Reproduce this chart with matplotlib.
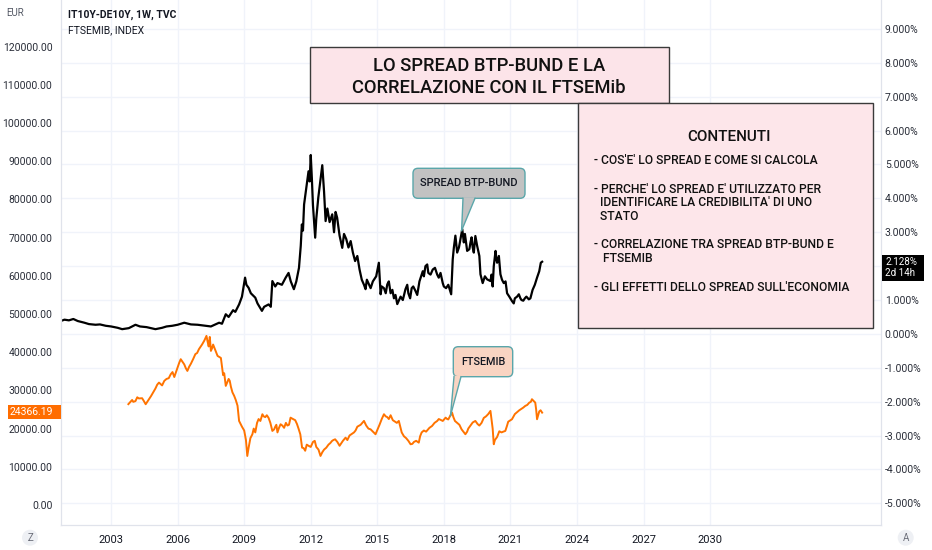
import matplotlib.pyplot as plt
from matplotlib.patches import FancyBboxPatch, Polygon, Rectangle, Circle
from matplotlib.lines import Line2D
from matplotlib.transforms import IdentityTransform

W, H = 932, 550

# IT10Y-DE10Y spread, weekly, %
spread_years = [2000.73, 2000.9, 2001.1, 2001.3, 2001.5, 2001.8, 2002.0, 2002.3, 2002.5, 2002.76,
                2003.0, 2003.3, 2003.5, 2003.8, 2004.1, 2004.3, 2004.6, 2005.0, 2005.3, 2005.5,
                2005.76, 2006.0, 2006.3, 2006.6, 2006.9, 2007.27, 2007.5, 2007.7, 2007.87, 2008.0,
                2008.17, 2008.3, 2008.5, 2008.6, 2008.77, 2008.9, 2009.04, 2009.1, 2009.2, 2009.3,
                2009.5, 2009.6, 2009.8, 2009.9, 2010.1, 2010.2, 2010.27, 2010.4, 2010.5, 2010.7,
                2010.87, 2011.0, 2011.1, 2011.24, 2011.35, 2011.47, 2011.55, 2011.6, 2011.65, 2011.7,
                2011.8, 2011.9, 2011.95, 2012.0, 2012.05, 2012.1, 2012.2, 2012.25, 2012.34, 2012.45,
                2012.52, 2012.6, 2012.67, 2012.75, 2012.85, 2012.97, 2013.05, 2013.12, 2013.19, 2013.3,
                2013.42, 2013.5, 2013.6, 2013.7, 2013.8, 2013.9, 2014.0, 2014.1, 2014.2, 2014.3,
                2014.4, 2014.47, 2014.53, 2014.6, 2014.7, 2014.8, 2014.95, 2015.07, 2015.15, 2015.2,
                2015.3, 2015.38, 2015.45, 2015.52, 2015.6, 2015.68, 2015.75, 2015.82, 2015.9, 2016.05,
                2016.15, 2016.27, 2016.35, 2016.4, 2016.48, 2016.55, 2016.62, 2016.72, 2016.8, 2016.9,
                2017.05, 2017.1, 2017.17, 2017.25, 2017.3, 2017.4, 2017.5, 2017.6, 2017.7, 2017.77,
                2017.85, 2017.95, 2018.0, 2018.1, 2018.2, 2018.33, 2018.4, 2018.45, 2018.52, 2018.6,
                2018.68, 2018.75, 2018.83, 2018.9, 2018.95, 2019.05, 2019.15, 2019.2, 2019.25, 2019.3,
                2019.35, 2019.42, 2019.5, 2019.6, 2019.65, 2019.75, 2019.85, 2019.95, 2020.1, 2020.15,
                2020.2, 2020.25, 2020.33, 2020.37, 2020.4, 2020.48, 2020.55, 2020.62, 2020.7, 2020.78,
                2020.85, 2020.95, 2021.07, 2021.15, 2021.2, 2021.3, 2021.38, 2021.45, 2021.5, 2021.58,
                2021.65, 2021.72, 2021.83, 2021.9, 2022.0, 2022.1, 2022.2, 2022.3, 2022.37, 2022.43]
spread_pct = [0.38, 0.42, 0.40, 0.44, 0.38, 0.33, 0.29, 0.27, 0.28, 0.24,
              0.22, 0.18, 0.14, 0.17, 0.27, 0.22, 0.20, 0.14, 0.18, 0.22,
              0.24, 0.27, 0.33, 0.28, 0.27, 0.24, 0.22, 0.28, 0.33, 0.30,
              0.58, 0.50, 0.70, 0.65, 0.87, 1.10, 1.66, 1.45, 1.36, 1.20,
              1.07, 0.90, 0.68, 0.80, 0.87, 0.80, 1.56, 1.40, 1.50, 1.45,
              1.66, 1.80, 1.55, 1.32, 1.55, 1.95, 2.60, 3.23, 3.05, 3.82,
              4.30, 4.80, 4.50, 5.28, 4.60, 3.80, 2.84, 3.40, 4.02, 4.60,
              4.98, 4.20, 3.33, 3.70, 3.30, 3.53, 3.00, 3.60, 3.43, 2.90,
              2.54, 2.95, 2.80, 2.55, 2.74, 2.40, 2.15, 2.30, 1.90, 1.60,
              1.45, 1.32, 1.60, 1.50, 1.35, 1.55, 1.70, 2.10, 1.17, 1.40,
              1.35, 1.20, 1.46, 1.55, 1.20, 1.30, 1.05, 1.15, 0.88, 1.10,
              1.00, 1.32, 1.45, 1.20, 1.05, 1.35, 1.40, 1.27, 1.15, 1.55,
              1.85, 1.70, 2.00, 2.05, 1.80, 1.75, 1.90, 1.95, 1.75, 1.66,
              1.80, 1.50, 1.40, 1.35, 1.45, 1.17, 2.20, 2.54, 2.90, 2.40,
              2.55, 2.80, 3.09, 2.70, 2.95, 2.45, 2.50, 2.70, 2.85, 2.55,
              2.40, 2.89, 2.60, 2.30, 1.76, 1.50, 1.70, 1.61, 1.56, 1.75,
              1.40, 2.00, 2.45, 2.20, 2.10, 2.30, 1.76, 1.60, 1.50, 1.55,
              1.20, 1.10, 0.97, 0.90, 1.05, 1.10, 1.17, 1.05, 1.00, 0.98,
              1.05, 1.10, 1.02, 1.05, 1.30, 1.45, 1.66, 1.85, 2.10, 2.13]

# FTSEMIB index, EUR
ftse_years = [2003.78, 2003.95, 2004.0, 2004.1, 2004.18, 2004.25, 2004.4, 2004.48, 2004.56, 2004.8,
              2005.0, 2005.08, 2005.16, 2005.3, 2005.4, 2005.5, 2005.6, 2005.69, 2005.77, 2005.85,
              2006.0, 2006.07, 2006.14, 2006.22, 2006.3, 2006.37, 2006.44, 2006.52, 2006.6, 2006.7,
              2006.8, 2006.88, 2006.96, 2007.1, 2007.2, 2007.3, 2007.35, 2007.4, 2007.45, 2007.5,
              2007.55, 2007.6, 2007.7, 2007.8, 2007.95, 2008.05, 2008.1, 2008.17, 2008.23, 2008.3,
              2008.35, 2008.4, 2008.47, 2008.55, 2008.62, 2008.7, 2008.77, 2008.9, 2009.0, 2009.08,
              2009.14, 2009.2, 2009.28, 2009.37, 2009.43, 2009.5, 2009.58, 2009.65, 2009.73, 2009.82,
              2009.88, 2009.95, 2010.02, 2010.1, 2010.18, 2010.27, 2010.35, 2010.4, 2010.45, 2010.5,
              2010.57, 2010.64, 2010.72, 2010.8, 2010.88, 2010.95, 2011.02, 2011.09, 2011.17, 2011.3,
              2011.38, 2011.45, 2011.53, 2011.61, 2011.68, 2011.75, 2011.82, 2011.9, 2012.0, 2012.1,
              2012.18, 2012.25, 2012.35, 2012.44, 2012.52, 2012.6, 2012.7, 2012.8, 2012.88, 2012.96,
              2013.02, 2013.1, 2013.2, 2013.3, 2013.45, 2013.57, 2013.65, 2013.75, 2013.85, 2013.95,
              2014.02, 2014.1, 2014.25, 2014.4, 2014.5, 2014.6, 2014.7, 2014.8, 2014.92, 2015.1,
              2015.2, 2015.3, 2015.38, 2015.45, 2015.52, 2015.6, 2015.7, 2015.8, 2015.88, 2015.97,
              2016.1, 2016.2, 2016.3, 2016.4, 2016.5, 2016.58, 2016.65, 2016.75, 2016.87, 2016.93,
              2017.0, 2017.1, 2017.2, 2017.35, 2017.47, 2017.58, 2017.7, 2017.77, 2017.85, 2017.95,
              2018.08, 2018.15, 2018.2, 2018.3, 2018.37, 2018.43, 2018.5, 2018.6, 2018.7, 2018.8,
              2018.97, 2019.05, 2019.1, 2019.2, 2019.3, 2019.42, 2019.52, 2019.6, 2019.7, 2019.8,
              2019.9, 2020.0, 2020.1, 2020.2, 2020.25, 2020.3, 2020.4, 2020.5, 2020.6, 2020.68,
              2020.77, 2020.85, 2020.9, 2021.0, 2021.07, 2021.2, 2021.3, 2021.4, 2021.5, 2021.58,
              2021.67, 2021.76, 2021.85, 2021.92, 2021.97, 2022.05, 2022.12, 2022.16, 2022.2, 2022.25,
              2022.3, 2022.36, 2022.43]
ftse_vals = [26400, 27500, 27000, 27200, 28200, 27900, 27950, 27200, 26380, 28500,
             30500, 31500, 32040, 31300, 32500, 33000, 33200, 34240, 34800, 33500,
             36000, 37200, 38170, 37500, 36800, 35800, 35100, 36200, 37000, 38200,
             39500, 39800, 40790, 42000, 43000, 44270, 42800, 41500, 44000, 40340,
             41000, 42000, 40500, 39030, 38500, 34000, 34500, 31180, 32000, 33000,
             32500, 31000, 29500, 28560, 27500, 26000, 22010, 20500, 19500, 17000,
             12840, 15000, 17500, 18520, 20000, 19000, 21500, 22500, 22000, 23760,
             23200, 23000, 23500, 22800, 21500, 19390, 19800, 20500, 21000, 19000,
             20200, 21140, 20800, 20200, 21500, 20800, 21000, 22870, 22600, 22200,
             21200, 20000, 18500, 15010, 14900, 14200, 15800, 15500, 15200, 16500,
             16800, 15200, 14500, 12840, 13800, 14500, 15000, 15800, 16200, 16770,
             17000, 17200, 16500, 15500, 16800, 17630, 17000, 18200, 18600, 19000,
             19500, 20500, 21000, 22010, 20800, 20000, 19800, 19200, 18520, 21000,
             22500, 23760, 23200, 23000, 22500, 23500, 22200, 21800, 21500, 22010,
             19000, 18000, 17500, 16800, 15900, 16000, 16500, 16800, 16330, 18000,
             19000, 19500, 19200, 20200, 20700, 21500, 22000, 22500, 22300, 22000,
             22870, 22500, 22400, 23500, 24180, 23000, 22000, 21500, 21000, 19800,
             18520, 19200, 20000, 20800, 21600, 22010, 21200, 20800, 21500, 22800,
             23200, 23800, 24630, 20000, 15900, 17000, 17800, 19300, 19000, 19200,
             19390, 20800, 21800, 22200, 22450, 23800, 24300, 24800, 25200, 25500,
             25940, 26200, 26800, 27000, 27690, 27200, 26800, 25000, 22450, 23500,
             24500, 24800, 24180]

last_ftse = 24366.19
last_spread = 2.128

year_ticks = [2003, 2006, 2009, 2012, 2015, 2018, 2021, 2024, 2027, 2030]
left_ticks = [0, 10000, 20000, 30000, 40000, 50000, 60000, 70000, 80000, 90000, 100000, 110000, 120000]
right_ticks = [-5, -4, -3, -2, -1, 0, 1, 2, 3, 4, 5, 6, 7, 8, 9]

contenuti = ["- COS'E' LO SPREAD E COME SI CALCOLA",
             "- PERCHE' LO SPREAD E' UTILIZZATO PER",
             "  IDENTIFICARE LA CREDIBILITA' DI UNO",
             "  STATO",
             "- CORRELAZIONE TRA SPREAD BTP-BUND E",
             "   FTSEMIB",
             "- GLI EFFETTI DELLO SPREAD SULL'ECONOMIA"]
contenuti_y = [160.7, 189.3, 202.0, 216.7, 245.0, 258.3, 287.3]

TXT = '#131722'
AXC = '#e0e3eb'
GRID = '#f0f3fa'
lab_font = ['Liberation Sans Narrow', 'Roboto', 'DejaVu Sans']
box_font = ['Roboto', 'DejaVu Sans']

fig = plt.figure(figsize=(W / 100, H / 100), dpi=100)
fig.patch.set_facecolor('white')
ax = fig.add_axes([60.7 / W, 25 / H, 820 / W, 525 / H])
ax2 = ax.twinx()

# spread on the bottom axes (right scale), FTSEMIB on the twin (left scale)
ax.plot(spread_years, spread_pct, color='black', lw=1.6, solid_joinstyle='round')
ax2.plot(ftse_years, ftse_vals, color='#ff7300', lw=1.4, solid_joinstyle='round')

ax.set_xlim(2000.73, 2037.69)
ax.set_ylim(-5.64, 9.855)
ax2.set_ylim(-5236, 132200)

ax.yaxis.tick_right()
ax2.yaxis.tick_left()
ax.set_yticks(right_ticks)
# the 2% label sits under the last-value tag
ax.set_yticklabels(['' if v == 2 else '%.3f%%' % v for v in right_ticks])
ax2.set_yticks(left_ticks)
ax2.set_yticklabels(['%.2f' % v for v in left_ticks])
ax.set_xticks(year_ticks)
ax.set_xticklabels([str(y) for y in year_ticks])

ax.grid(True, color=GRID, lw=1)
ax.set_axisbelow(True)
ax.tick_params(axis='y', length=0, pad=3, labelsize=7.5, labelcolor='#2a2e39')
ax.tick_params(axis='x', length=0, pad=7, labelsize=8, labelcolor=TXT)
ax2.tick_params(axis='y', length=0, pad=6, labelsize=7.5, labelcolor='#2a2e39')
for lbl in ax.get_yticklabels() + ax2.get_yticklabels() + ax.get_xticklabels():
    lbl.set_family(lab_font)
for a in (ax, ax2):
    for s in a.spines.values():
        s.set_color(AXC)
    a.spines['top'].set_visible(False)

fig.canvas.draw()
I = IdentityTransform()


def px(x, y):
    return x, H - y


def data_px(a, x, y):
    dx, dy = a.transData.transform((x, y))
    return dx, H - dy


def add_box(x0, y0, x1, y1, fc, ec, lw=1.0, rounded=False):
    if rounded:
        p = FancyBboxPatch((x0, H - y1), x1 - x0, y1 - y0, boxstyle='round,pad=0,rounding_size=5',
                           fc=fc, ec=ec, lw=lw, transform=I, zorder=5)
    else:
        p = Rectangle((x0, H - y1), x1 - x0, y1 - y0, fc=fc, ec=ec, lw=lw, transform=I, zorder=5)
    fig.add_artist(p)


def callout(x0, y0, x1, y1, fc, base_l, base_r, tip, text, size):
    add_box(x0, y0, x1, y1, fc, '#5aa6aa', 1.0, rounded=True)
    pts = [px(base_l, y1 - 1), px(base_r, y1 - 1), (tip[0], H - tip[1])]
    fig.add_artist(Polygon(pts, closed=True, fc=fc, ec='none', transform=I, zorder=6))
    for bx in (base_l, base_r):
        fig.add_artist(Line2D([bx, tip[0]], [H - y1, H - tip[1]], color='#5aa6aa', lw=1.0,
                              transform=I, zorder=6))
    fig.text((x0 + x1) / 2, H - (y0 + y1) / 2, text, transform=I, ha='center', va='center',
             fontsize=size, color=TXT, family=box_font, fontweight='medium', zorder=7)


# header
fig.text(68.3, H - 14.7, 'IT10Y-DE10Y, 1W, TVC', transform=I, fontsize=7.5, fontweight='bold',
         color=TXT, va='center', family=box_font)
fig.text(68.3, H - 30, 'FTSEMIB, INDEX', transform=I, fontsize=7.5, color=TXT, va='center',
         family=box_font)
fig.text(6.5, H - 13, 'EUR', transform=I, fontsize=7, color='#555a66', va='center', family=lab_font)

# title box
add_box(310, 47.3, 669, 102.7, '#fce4e9', '#3a3a3a', 1.0)
fig.text(489, H - 66, 'LO SPREAD BTP-BUND E LA', transform=I, ha='center', va='center',
         fontsize=13.2, color='#111111', family=box_font, fontweight='medium', zorder=7)
fig.text(489, H - 87.7, 'CORRELAZIONE CON IL FTSEMib', transform=I, ha='center', va='center',
         fontsize=13.2, color='#111111', family=box_font, fontweight='medium', zorder=7)

# contents box
add_box(577.7, 102.7, 872.5, 328.3, '#fde6ea', '#3a3a3a', 1.0)
fig.text(728.5, H - 137.3, 'CONTENUTI', transform=I, ha='center', va='center', fontsize=11,
         color='#111111', family=box_font, fontweight='medium', zorder=7)
for line, yy in zip(contenuti, contenuti_y):
    fig.text(594, H - yy, line, transform=I, ha='left', va='center', fontsize=8.7,
             color='#111111', family=box_font, fontweight='medium', zorder=7)

# callouts pointing at the series
tip1 = data_px(ax, 2018.8, 3.05)
callout(413, 168.3, 525, 198.3, '#c2c2c2', 463, 475, tip1, 'SPREAD BTP-BUND', 8)
tip2 = data_px(ax2, 2018.3, 23400)
callout(453.3, 346.7, 512.7, 376.7, '#f9d4c2', 454, 461, tip2, 'FTSEMIB', 7.8)

# last value labels
_, yf = data_px(ax2, 2020, last_ftse)
add_box(8.3, yf - 6.7, 60.5, yf + 6.7, '#ff6d00', 'none', 0)
fig.text(53.3, H - yf, '%.2f' % last_ftse, transform=I, ha='right', va='center', fontsize=7.5,
         color='white', family=lab_font, zorder=7)
_, ys = data_px(ax, 2020, last_spread)
add_box(881.5, ys - 7, 923.5, ys + 19, '#000000', 'none', 0)
fig.text(885, H - (ys + 6), '%.3f%%\n2d 14h' % last_spread, transform=I, ha='left', va='center',
         fontsize=7, linespacing=1.15, color='white', family=lab_font, zorder=7)

# corner buttons
for cx, ch in ((30, 'Z'), (905.7, 'A')):
    fig.add_artist(Circle(px(cx, 537.7), 8, fc='#eef0f4', ec='none', transform=I, zorder=5))
    fig.text(cx, H - 537.7, ch, transform=I, ha='center', va='center', fontsize=7,
             color='#6a6d78', family=lab_font, zorder=6)

fig.savefig('out.png', dpi=100)
